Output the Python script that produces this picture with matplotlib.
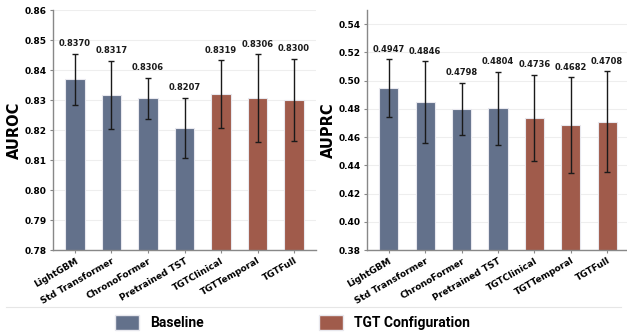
import matplotlib
matplotlib.use("Agg")
import matplotlib.pyplot as plt
from matplotlib.lines import Line2D
from matplotlib.patches import Patch

models = ["LightGBM", "Std Transformer", "ChronoFormer", "Pretrained TST",
          "TGTClinical", "TGTTemporal", "TGTFull"]
groups = ["Baseline", "Baseline", "Baseline", "Baseline", "TGT", "TGT", "TGT"]
auroc = [0.8370, 0.8317, 0.8306, 0.8207, 0.8319, 0.8306, 0.8300]
auroc_err = [0.0085, 0.0113, 0.0068, 0.0101, 0.0113, 0.0147, 0.0138]
auprc = [0.4947, 0.4846, 0.4798, 0.4804, 0.4736, 0.4682, 0.4708]
auprc_err = [0.0205, 0.0290, 0.0185, 0.0260, 0.0307, 0.0340, 0.0358]
auroc_ticks = [0.78, 0.79, 0.80, 0.81, 0.82, 0.83, 0.84, 0.85, 0.86]
auprc_ticks = [0.38, 0.40, 0.42, 0.44, 0.46, 0.48, 0.50, 0.52, 0.54]

colors = {"Baseline": "#63718b", "TGT": "#a05b4b"}
W, H = 627, 335
fig = plt.figure(figsize=(W / 100, H / 100), dpi=100)

def px_axes(x0, x1, ytop, ybot):
    return fig.add_axes([x0 / W, 1 - ybot / H, (x1 - x0) / W, (ybot - ytop) / H])

ax1 = px_axes(53, 316, 10, 250)
ax2 = px_axes(367, 629, 10, 250)

def draw(ax, vals, errs, ylabel, ylim, ticks):
    x = list(range(len(models)))
    ax.bar(x, vals, width=0.53, color=[colors[g] for g in groups],
           edgecolor="#e8e8ee", linewidth=0.8, zorder=2)
    ax.errorbar(x, vals, yerr=errs, fmt="none", ecolor="#1a1a1a",
                elinewidth=1.0, capsize=2.5, capthick=1.0, zorder=3)
    for xi, v, e in zip(x, vals, errs):
        ax.annotate(f"{v:.4f}", (xi, v + e), xytext=(0, 4),
                    textcoords="offset points", ha="center", va="bottom",
                    fontsize=6, fontweight="bold", color="#1a1a1a")
    ax.set_xlim(-0.6, 6.6)
    ax.set_ylim(*ylim)
    ax.set_yticks(ticks)
    ax.set_yticklabels([f"{t:.2f}" for t in ticks], fontsize=6.5,
                       fontweight="bold")
    ax.set_xticks(x)
    ax.set_xticklabels(models, rotation=30, ha="right", rotation_mode="anchor",
                       fontsize=6.5, fontweight="bold")
    ax.set_ylabel(ylabel, fontsize=10.5, fontweight="bold", labelpad=1.5)
    ax.grid(axis="y", color="#eeeeee", linewidth=0.8, zorder=0)
    ax.set_axisbelow(True)
    for s in ["top", "right"]:
        ax.spines[s].set_visible(False)
    for s in ["left", "bottom"]:
        ax.spines[s].set_color("#888888")
        ax.spines[s].set_linewidth(1.0)
    ax.tick_params(axis="both", length=2.5, width=0.8, color="#888888", pad=2)

draw(ax1, auroc, auroc_err, "AUROC", (0.78, 0.86), auroc_ticks)
draw(ax2, auprc, auprc_err, "AUPRC", (0.38, 0.55), auprc_ticks)

fig.add_artist(Line2D([6 / W, 621 / W], [1 - 307 / H, 1 - 307 / H],
                      color="#e6e6e6", linewidth=0.8))

handles = [Patch(facecolor=colors["Baseline"], edgecolor="#e8e8ee", label="Baseline"),
           Patch(facecolor=colors["TGT"], edgecolor="#e8e8ee", label="TGT Configuration")]
fig.legend(handles=handles, loc="center left", bbox_to_anchor=(115 / W, 1 - 322.5 / H),
           ncol=2, frameon=False, prop={"family": "Roboto", "weight": "bold", "size": 10},
           handlelength=1.73, handleheight=1.37, handletextpad=0.8, columnspacing=8.3,
           borderaxespad=0, borderpad=0)

fig.savefig("out.png", dpi=100)
